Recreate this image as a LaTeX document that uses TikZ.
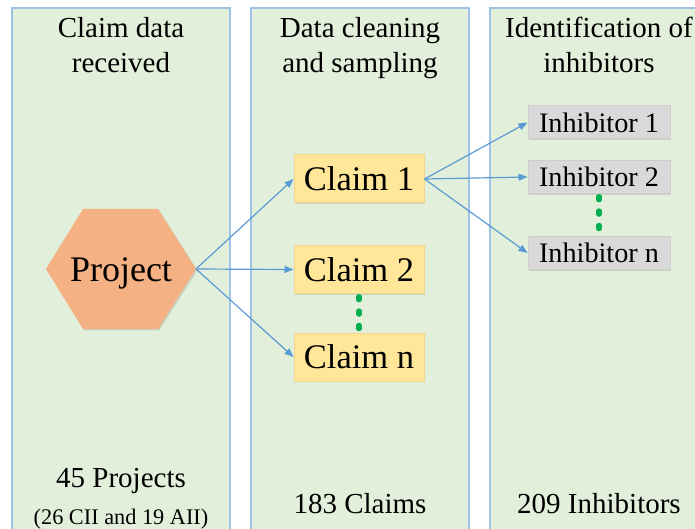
\documentclass[tikz,border=0pt]{standalone}
\usepackage{fontspec}
\setmainfont{Liberation Serif}
\usetikzlibrary{arrows.meta,shadows}
\definecolor{colfill}{HTML}{E2EFDA}
\definecolor{colline}{HTML}{9DC3E6}
\definecolor{claimfill}{HTML}{FFE699}
\definecolor{claimline}{HTML}{F2D68E}
\definecolor{inhfill}{HTML}{D9D9D9}
\definecolor{inhline}{HTML}{CDCDCD}
\definecolor{hexfill}{HTML}{F4B183}
\definecolor{flowblue}{HTML}{5B9BD5}
\definecolor{dotgreen}{HTML}{00B050}
\begin{document}
\begin{tikzpicture}[x=0.5pt,y=-0.5pt,
	column/.style={draw=colline,fill=colfill,line width=0.6pt},
	softshadow/.style={drop shadow={shadow xshift=0.7pt,shadow yshift=-0.7pt,opacity=0.2,fill=black!60}},
	title/.style={anchor=north,inner sep=0pt,align=center,font=\fontsize{14.5}{17.5}\selectfont},
	count/.style={anchor=base,inner sep=0pt,font=\fontsize{14.5}{17.5}\selectfont},
	claimbox/.style={draw=claimline,fill=claimfill,line width=0.5pt,minimum width=65pt,minimum height=24pt,inner sep=0pt,font=\fontsize{17.25}{20}\selectfont,softshadow},
	inhbox/.style={draw=inhline,fill=inhfill,line width=0.5pt,minimum width=71pt,minimum height=16.5pt,inner sep=0pt,font=\fontsize{14.1}{16}\selectfont,softshadow},
	flow/.style={draw=flowblue,line width=0.6pt,-{Triangle[length=4.5pt,width=3.5pt]}},
	dots/.style={draw=dotgreen,line width=2.6pt,line cap=round,dash pattern=on 1.6pt off 5.6pt,shorten <=1.3pt,shorten >=1.3pt}]
	\clip (0,0) rectangle (695,529);
	\useasboundingbox (0,0) rectangle (695,529);
	
	% three columns
	\draw[column] (12,8) rectangle (230,545);
	\draw[column] (251,8) rectangle (469,545);
	\draw[column] (490,8) rectangle (708,545);
	
	\node[title] (t1) at (121,17) {Claim data\\received};
	\node[title] (t2) at (360,17) {Data cleaning\\and sampling};
	\node[title] (t3) at (599,17) {Identification of\\inhibitors};
	
	% hexagon
	\fill[hexfill,softshadow] (46,269) -- (83,209) -- (158,209) -- (196,269) -- (158,329) -- (83,329) -- cycle;
	\node[anchor=base,inner sep=0pt,font=\fontsize{18}{20}\selectfont] (project) at (121,281) {Project};
	\coordinate (projtip) at (196,269);
	
	\node[claimbox] (claim1) at (359,179) {Claim 1};
	\node[claimbox] (claim2) at (359,269.5) {Claim 2};
	\node[claimbox] (claimn) at (359,357) {Claim n};
	
	\node[inhbox] (inh1) at (599,122.5) {Inhibitor 1};
	\node[inhbox] (inh2) at (599,177) {Inhibitor 2};
	\node[inhbox] (inhn) at (599,253) {Inhibitor n};
	
	\draw[flow] (projtip) -- (claim1.west);
	\draw[flow] (projtip) -- (claim2.west);
	\draw[flow] (projtip) -- (claimn.west);
	\draw[flow] (claim1.east) -- (inh1.west);
	\draw[flow] (claim1.east) -- (inh2.west);
	\draw[flow] (claim1.east) -- (inhn.west);
	
	\draw[dots] (claim2.south) -- (claimn.north);
	\draw[dots] (inh2.south) -- (inhn.north);
	
	\node[count] (c1) at (121,487) {45 Projects};
	\node[count,font=\fontsize{11.15}{13}\selectfont] (c1b) at (121,524) {(26 CII and 19 AII)};
	\node[count] (c2) at (360,513) {183 Claims};
	\node[count] (c3) at (599,513) {209 Inhibitors};
\end{tikzpicture}
\end{document}
